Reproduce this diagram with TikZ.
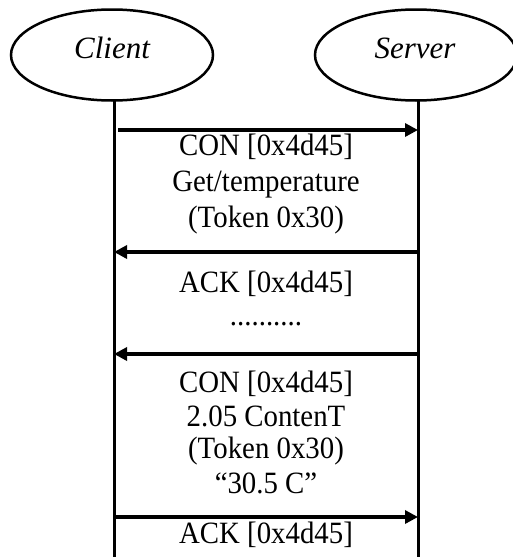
\documentclass[tikz,border=0pt]{standalone}
\usepackage{fontspec}
\setmainfont{Liberation Serif}
\newfontfamily\msgfont[FakeStretch=0.93]{Liberation Serif}
\usetikzlibrary{arrows.meta,shapes.geometric}

\tikzset{
  actor/.style={draw, line width=2.5pt, ellipse, minimum width=202pt, minimum height=91pt,
                inner sep=0pt},
  actorlbl/.style={anchor=base, inner sep=0pt, font=\fontsize{31}{36}\selectfont\itshape},
  lifeline/.style={line width=3pt},
  msg/.style={line width=3.5pt, -{Triangle[length=13pt,width=13pt]}},
  msgtext/.style={anchor=base, inner sep=0pt, font=\msgfont\fontsize{31}{35}\selectfont}
}

\begin{document}
\begin{tikzpicture}[x=1pt, y=-1pt]
  \useasboundingbox (0,0) rectangle (512,557);

  % participants
  \node[actor] (client) at (112,55) {};
  \node[actor] (server) at (416,55) {};
  \node[actorlbl] (clientlbl) at (112,58) {Client};
  \node[actorlbl] (serverlbl) at (415,58) {Server};

  % lifelines
  \coordinate (cTop) at (114,100);
  \coordinate (cBot) at (114,560);
  \coordinate (sTop) at (418,100);
  \coordinate (sBot) at (418,560);
  \draw[lifeline] (cTop) -- (cBot);
  \draw[lifeline] (sTop) -- (sBot);

  % message end points
  \coordinate (m1a) at (118,130);  \coordinate (m1b) at (418,130);
  \coordinate (m2a) at (418,252);  \coordinate (m2b) at (114,252);
  \coordinate (m3a) at (418,354);  \coordinate (m3b) at (114,354);
  \coordinate (m4a) at (114,517);  \coordinate (m4b) at (418,517);

  \draw[msg] (m1a) -- (m1b);
  \draw[msg] (m2a) -- (m2b);
  \draw[msg] (m3a) -- (m3b);
  \draw[msg] (m4a) -- (m4b);

  % message labels
  \node[msgtext] (t1a) at (266,155) {CON [0x4d45]};
  \node[msgtext] (t1b) at (266,191) {Get/temperature};
  \node[msgtext] (t1c) at (266,227) {(Token 0x30)};

  \node[msgtext] (t2a) at (266,292) {ACK [0x4d45]};
  \node[msgtext] (t2b) at (266,325) {..........};

  \node[msgtext] (t3a) at (266,392) {CON [0x4d45]};
  \node[msgtext] (t3b) at (266,426) {2.05 ContenT};
  \node[msgtext] (t3c) at (266,458) {(Token 0x30)};
  \node[msgtext] (t3d) at (266,493) {“30.5 C”};

  \node[msgtext] (t4a) at (266,543) {ACK [0x4d45]};
\end{tikzpicture}
\end{document}
